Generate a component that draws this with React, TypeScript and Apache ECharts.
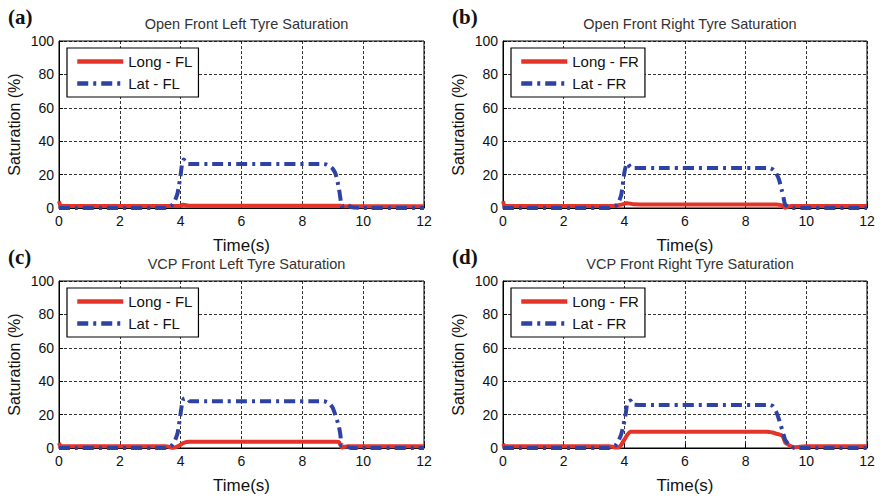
import React, { useEffect, useRef } from "react";
import * as echarts from "echarts";

const t = [0, 0.05, 0.2, 3.5, 3.6, 3.7, 3.8, 3.9, 4.0, 4.05, 4.1, 4.2, 4.3, 5, 8.7, 8.8, 8.9, 9.0, 9.1, 9.2, 9.25, 9.3, 9.4, 9.5, 9.6, 10, 12];

// (a) Open Front Left
const longA = [4, 1.5, 1.2, 1.2, 1.2, 1.2, 1.2, 1.2, 1.4, 1.8, 2, 1.6, 1.3, 1.3, 1.3, 1.3, 1.3, 1.3, 1.3, 1.3, 1.3, 1.2, 1.1, 1.1, 1.1, 1.1, 1.1];
const latA = [0, 0, 0, 0, 0.5, 1.5, 4, 9, 20, 27, 29, 26.5, 26.3, 26.3, 26.3, 26, 25, 23.5, 20, 12, 6, 1, 1.5, 2, 0.5, 0, 0];
// (b) Open Front Right
const longB = [4, 1.5, 1.2, 1.2, 1.2, 1.3, 1.6, 2, 2.5, 2.8, 2.9, 2.6, 2.2, 2.1, 2.1, 2.1, 2.1, 2.1, 2, 1.5, 0.8, 0.2, 0.8, 1.2, 1.2, 1.2, 1.2];
const latB = [0, 0, 0, 0, 0.5, 1, 3, 8, 21, 25, 26.9, 24.5, 23.9, 23.9, 23.9, 23.9, 23, 21, 17, 10, 6, 2, 1, 0.5, 0, 0, 0];
// (c) VCP Front Left
const longC = [3, 1.2, 1, 1, 0.8, 0.2, 0.3, 1, 2, 2.6, 3.1, 3.6, 3.8, 3.8, 3.8, 3.8, 3.8, 3.8, 3.8, 3.6, 2, 0.3, 0.8, 1, 1, 1, 1];
const latC = [0, 0, 0, 0, 0.5, 1.5, 4, 9, 21, 27, 29.5, 30, 28, 28, 28, 27.5, 26.4, 24, 19, 13, 8, 1, 1, 0.5, 0, 0, 0];
// (d) VCP Front Right
const longD = [2.5, 1.2, 1, 1, 0.8, 0.3, 0.3, 2, 5, 6.4, 8, 9.8, 9.8, 9.8, 9.8, 9.5, 9.3, 8.6, 8.2, 7.4, 6, 3.4, 2, 1, 0.5, 1, 1];
const latD = [0, 0, 0, 0, 0.5, 1.4, 4, 8.4, 16, 21, 27, 28.4, 26, 25.8, 25.8, 25.8, 25, 22, 17, 11, 8, 5, 2.5, 1, 0, 0, 0];

const titles = [
  "Open Front Left Tyre Saturation",
  "Open Front Right Tyre Saturation",
  "VCP Front Left Tyre Saturation",
  "VCP Front Right Tyre Saturation",
];
const panelLabels = ["(a)", "(b)", "(c)", "(d)"];
const longNames = ["Long - FL", "Long - FR", "Long - FL", "Long - FR"];
const latNames = ["Lat - FL", "Lat - FR", "Lat - FL", "Lat - FR"];
const longData = [longA, longB, longC, longD];
const latData = [latA, latB, latC, latD];

const RED = "#e4342a";
const BLUE = "#2e42a4";
const FONT = "Liberation Sans, Arial, Helvetica, sans-serif";

const grids = [
  { left: 59, top: 41, width: 365, height: 167 },
  { left: 503, top: 41, width: 364, height: 167 },
  { left: 59, top: 281, width: 365, height: 167 },
  { left: 503, top: 281, width: 364, height: 167 },
];

export default function App() {
  const ref = useRef<HTMLDivElement>(null);
  useEffect(() => {
    if (!ref.current) return;
    const chart = echarts.init(ref.current, undefined, { renderer: "svg" });
    const pair = (ys: number[]) => ys.map((y, i) => [t[i], y]);
    const option: any = {
      animation: false,
      backgroundColor: "#ffffff",
      title: [
        ...titles.map((txt, i) => ({
          text: txt,
          left: grids[i].left + grids[i].width / 2,
          top: grids[i].top - 30,
          textAlign: "center",
          textStyle: { fontSize: 14.5, fontWeight: "normal", color: "#333", fontFamily: FONT },
        })),
        ...panelLabels.map((txt, i) => ({
          text: txt,
          left: grids[i].left - 56,
          top: grids[i].top - 40,
          textStyle: { fontSize: 21, fontWeight: "bold", color: "#111", fontFamily: "Liberation Serif, Times New Roman, serif" },
        })),
      ],
      grid: grids.map((g) => ({ ...g, show: true, borderColor: "#000", borderWidth: 1, backgroundColor: "transparent" })),
      legend: grids.map((g, i) => ({
        left: g.left + 8,
        top: g.top + 7,
        orient: "vertical",
        data: [longNames[i], latNames[i]],
        itemWidth: 46,
        itemHeight: 14,
        itemGap: 7,
        padding: [6, 6, 6, 8],
        borderColor: "#000",
        borderWidth: 1.2,
        backgroundColor: "#fff",
        selectedMode: false,
        itemStyle: { opacity: 0 },
        lineStyle: { width: 4.5 },
        textStyle: { fontSize: 15, color: "#111", fontFamily: FONT },
      })),
      xAxis: grids.map((_, i) => ({
        gridIndex: i,
        type: "value",
        min: 0,
        max: 12,
        interval: 2,
        name: "Time(s)",
        nameLocation: "middle",
        nameGap: 29,
        nameTextStyle: { fontSize: 17, color: "#111", fontFamily: FONT },
        axisLine: { lineStyle: { color: "#000", width: 1 } },
        axisTick: { inside: true, length: 4, lineStyle: { color: "#000" } },
        axisLabel: { fontSize: 14, color: "#111", margin: 6, fontFamily: FONT },
        splitLine: { show: true, lineStyle: { color: "#000", width: 0.8, type: [3, 2] } },
      })),
      yAxis: grids.map((_, i) => ({
        gridIndex: i,
        type: "value",
        min: 0,
        max: 100,
        interval: 20,
        name: "Saturation (%)",
        nameLocation: "middle",
        nameGap: 37,
        nameTextStyle: { fontSize: 16, color: "#111", fontFamily: FONT },
        axisLine: { lineStyle: { color: "#000", width: 1 } },
        axisTick: { inside: true, length: 4, lineStyle: { color: "#000" } },
        axisLabel: { fontSize: 14, color: "#111", margin: 5, fontFamily: FONT },
        splitLine: { show: true, lineStyle: { color: "#000", width: 0.8, type: [3, 2] } },
      })),
      series: grids.flatMap((_, i) => [
        {
          type: "line",
          name: longNames[i],
          xAxisIndex: i,
          yAxisIndex: i,
          data: pair(longData[i]),
          symbol: "none",
          smooth: 0.2,
          lineStyle: { color: RED, width: 4 },
          itemStyle: { color: RED },
          z: 3,
        },
        {
          type: "line",
          name: latNames[i],
          xAxisIndex: i,
          yAxisIndex: i,
          data: pair(latData[i]),
          symbol: "none",
          smooth: 0.2,
          lineStyle: { color: BLUE, width: 4, type: [11, 5, 3, 5] },
          itemStyle: { color: BLUE },
          z: 4,
        },
      ]),
    };
    chart.setOption(option);
    return () => chart.dispose();
  }, []);
  return (
    <div
      ref={ref}
      style={{ position: "fixed", left: 0, top: 0, width: 882, height: 498 }}
    />
  );
}
